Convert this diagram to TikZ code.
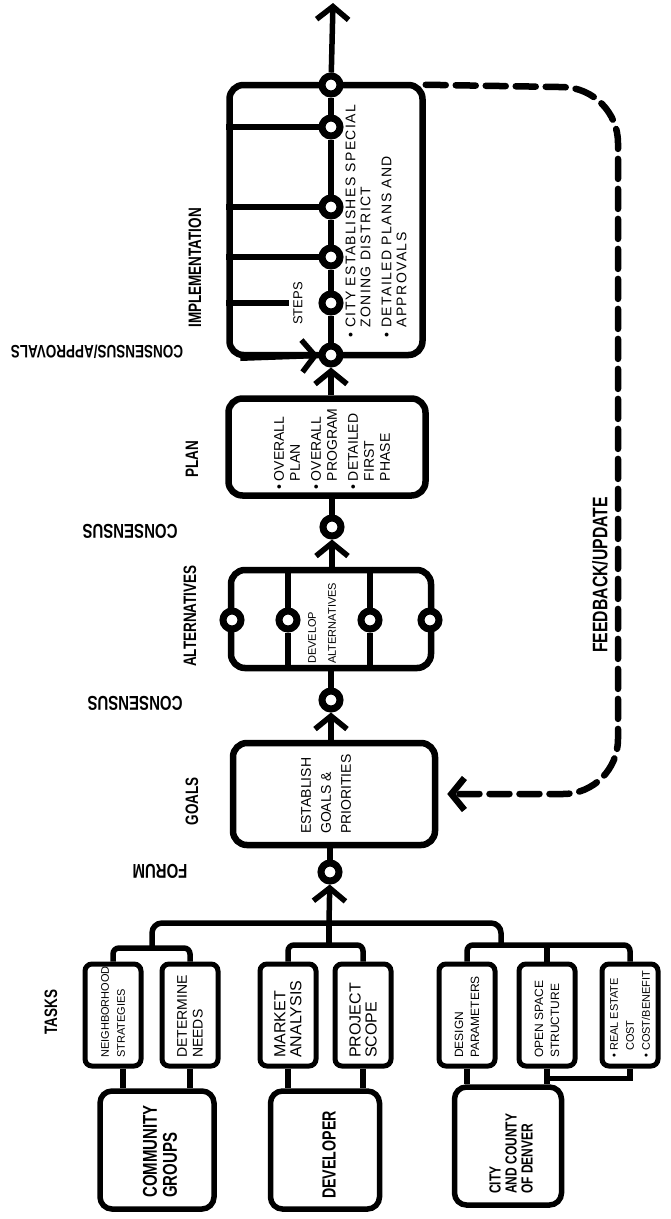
\documentclass[tikz,border=0pt]{standalone}
\usepackage{fontspec}
\newfontfamily\hand[FakeStretch=0.75]{Liberation Sans}
\newfontfamily\plain{Liberation Sans}
\newfontfamily\airy[LetterSpace=10]{Liberation Sans}
\usetikzlibrary{arrows.meta}
\begin{document}
\begin{tikzpicture}[x=1pt, y=-1pt,
  stage/.style={draw, line width=6.5pt, rounded corners=14pt, inner sep=0pt},
  taskbox/.style={draw, line width=5pt, rounded corners=7pt, inner sep=0pt, minimum width=56pt, minimum height=102pt},
  party/.style={draw, line width=5.5pt, rounded corners=12pt, inner sep=0pt, minimum height=118pt},
  hole/.style={circle, draw, line width=7pt, fill=white, inner sep=0pt, minimum size=18pt},
  bar/.style={line width=5.5pt},
  arr/.style={-{Straight Barb[length=13pt, width=32pt]}},
  fb/.style={line width=6.5pt, dash pattern=on 20pt off 10pt, line cap=round},
  head/.style={font=\hand\bfseries\fontsize{18}{20}\selectfont, rotate=90, inner sep=0pt},
  vote/.style={font=\hand\bfseries\fontsize{20}{22}\selectfont, rotate=180, inner sep=0pt},
  words/.style={rotate=90, align=left, anchor=west, inner sep=0pt}]
\useasboundingbox (0,0) rectangle (671,1219);

% stages
\node[stage, minimum width=193pt, minimum height=270pt] (impl) at (326,220) {};
\node[stage, minimum width=197pt, minimum height=97pt] (plan) at (327,447) {};
\node[stage, minimum width=200pt, minimum height=98pt] (alt) at (331,619) {};
\node[stage, minimum width=202pt, minimum height=102pt] (goals) at (334,794) {};

% circles on the spine
\node[hole] (c0) at (330,872) {};
\node[hole] (c1) at (331,700) {};
\node[hole] (c2) at (332,527) {};
\node[hole] (c3) at (331,355) {};
\foreach \n/\y in {4/303, 5/257, 6/207, 7/127, 8/85}
  \node[hole] (c\n) at (331,\y) {};
\foreach \n/\x in {1/232, 2/288, 3/370, 4/430}
  \node[hole] (a\n) at (\x,620) {};

% spine
\coordinate (fork) at (329,923);
\coordinate (out) at (333,3);
\draw[bar, arr] (fork) -- (c0);
\draw[bar] (c0) -- (goals.south -| c0);
\draw[bar, arr] (goals.north -| c1) -- (c1);
\draw[bar] (c1) -- (alt.south -| c1);
\draw[bar, arr] (alt.north -| c2) -- (c2);
\draw[bar] (c2) -- (plan.south -| c2);
\draw[bar, arr] (plan.north -| c3) -- (c3);
\draw[bar] (c3) -- (c4) -- (c5) -- (c6) -- (c7) -- (c8);
\draw[bar, arr] (c8) -- (out);

% alternatives
\draw[bar] (alt.north -| a2) -- (a2) -- (alt.south -| a2);
\draw[bar] (alt.north -| a3) -- (a3) -- (alt.south -| a3);

% implementation steps
\coordinate (stepsend) at (289,303);
\draw[bar] (impl.west |- c7) -- (c7);
\draw[bar] (impl.west |- c6) -- (c6);
\draw[bar] (impl.west |- c5) -- (c5);
\draw[bar] (impl.west |- stepsend) -- (stepsend);
\draw[bar, arr] ([xshift=14pt]impl.south west) -- (c3);

% feedback
\coordinate (fbtop) at (618,88);
\draw[fb, arr, rounded corners=55pt, shorten >=9pt] ([yshift=-3pt]impl.north east) -- (fbtop) |- (goals.east);

% heads
\node[head] (implhead) at (195,268) {IMPLEMENTATION};
\node[head] (planhead) at (192,459) {PLAN};
\node[head] (althead) at (190,616) {ALTERNATIVES};
\node[head] (goalshead) at (192,801) {GOALS};
\node[head] (taskshead) at (51,1012) {TASKS};
\node[head, font=\hand\bfseries\fontsize{21}{24}\selectfont] (fbhead) at (600,575) {FEEDBACK/UPDATE};
\node[vote, font=\hand\bfseries\fontsize{18}{20}\selectfont] (approve) at (97,352) {CONSENSUS/APPROVALS};
\node[vote] (agree2) at (130,531) {CONSENSUS};
\node[vote] (agree1) at (135,703) {CONSENSUS};
\node[vote] (forum) at (160,871) {FORUM};

% texts in the stages
\node[words, font=\plain\fontsize{13}{13}\selectfont] (stepstxt) at (298,325) {STEPS};
\node[words, font=\airy\fontsize{14}{15}\selectfont] (impltxt) at (376,338)
  {\textbullet\ CITY ESTABLISHES SPECIAL\\\phantom{\textbullet\ }ZONING DISTRICT\\[6pt]\textbullet\ DETAILED PLANS AND\\\phantom{\textbullet\ }APPROVALS};
\node[words, font=\plain\fontsize{14}{16}\selectfont] (plantxt) at (332,490)
  {\textbullet\ OVERALL\\\phantom{\textbullet\ }PLAN\\[5pt]\textbullet\ OVERALL\\\phantom{\textbullet\ }PROGRAM\\[5pt]\textbullet\ DETAILED\\\phantom{\textbullet\ }FIRST\\\phantom{\textbullet\ }PHASE};
\node[words, font=\plain\fontsize{11}{20}\selectfont] (alttxt) at (322,664) {DEVELOP\\ALTERNATIVES};
\node[words, font=\plain\fontsize{14}{20}\selectfont] (goalstxt) at (326,834) {ESTABLISH\\GOALS \&\\PRIORITIES};

% tasks
\foreach \name/\x in {preserve/113, needs/190, market/288, scope/363, design/467, open/547, cost/630}
  \node[taskbox] (\name) at (\x,1015) {};
\foreach \name/\x/\s/\txt in {preserve/113/11/{NEIGHBORHOOD\\STRATEGIES}, needs/190/14/{DETERMINE\\NEEDS},
    market/288/16/{MARKET\\ANALYSIS}, scope/363/16/{PROJECT\\SCOPE}, design/467/12/{DESIGN\\PARAMETERS},
    open/547/12/{OPEN SPACE\\STRUCTURE}, cost/630/11/{\textbullet\ REAL ESTATE\\\phantom{\textbullet\ }COST\\\textbullet\ COST/BENEFIT}}
  \node[words, font=\plain\fontsize{\s}{16}\selectfont] (\name txt) at (\x,1058) {\txt};

\coordinate (grp1) at (152,948);
\coordinate (grp2) at (329,945);
\coordinate (grp3) at (501,945);
\draw[bar, rounded corners=6pt] (preserve.north) |- (grp1) -| (needs.north);
\draw[bar, rounded corners=6pt] (market.north) |- (grp2) -| (scope.north);
\draw[bar, rounded corners=6pt] (design.north) |- (grp3) -| (cost.north);
\draw[bar] (open.north) -- (open.north |- grp3);
\draw[bar, rounded corners=10pt] (grp1) |- (fork) -| (grp3);
\draw[bar] (grp2) -- (fork);

% parties
\node[party, minimum width=114pt] (community) at (157,1150) {};
\node[party, minimum width=109pt] (developer) at (325,1150) {};
\node[party, minimum width=107pt] (city) at (508,1146) {};
\node[words, font=\hand\bfseries\fontsize{20}{20}\selectfont] (communitytxt) at (160,1198) {COMMUNITY\\GROUPS};
\node[head, font=\hand\bfseries\fontsize{19}{20}\selectfont] (developertxt) at (329,1155) {DEVELOPER};
\node[words, font=\hand\bfseries\fontsize{16}{16}\selectfont] (citytxt) at (511,1194) {CITY\\AND COUNTY\\OF DENVER};

\draw[bar] ([xshift=10pt]preserve.south) -- ([xshift=10pt]preserve.south |- community.north);
\draw[bar] (needs.south) -- (needs.south |- community.north);
\draw[bar] (market.south) -- (market.south |- developer.north);
\draw[bar] (scope.south) -- (scope.south |- developer.north);
\draw[bar] (design.south) -- (design.south |- city.north);
\draw[bar] (open.south) -- (open.south |- city.north);
\draw[bar] (open.south) ++(0,10) -| (cost.south);
\end{tikzpicture}
\end{document}
